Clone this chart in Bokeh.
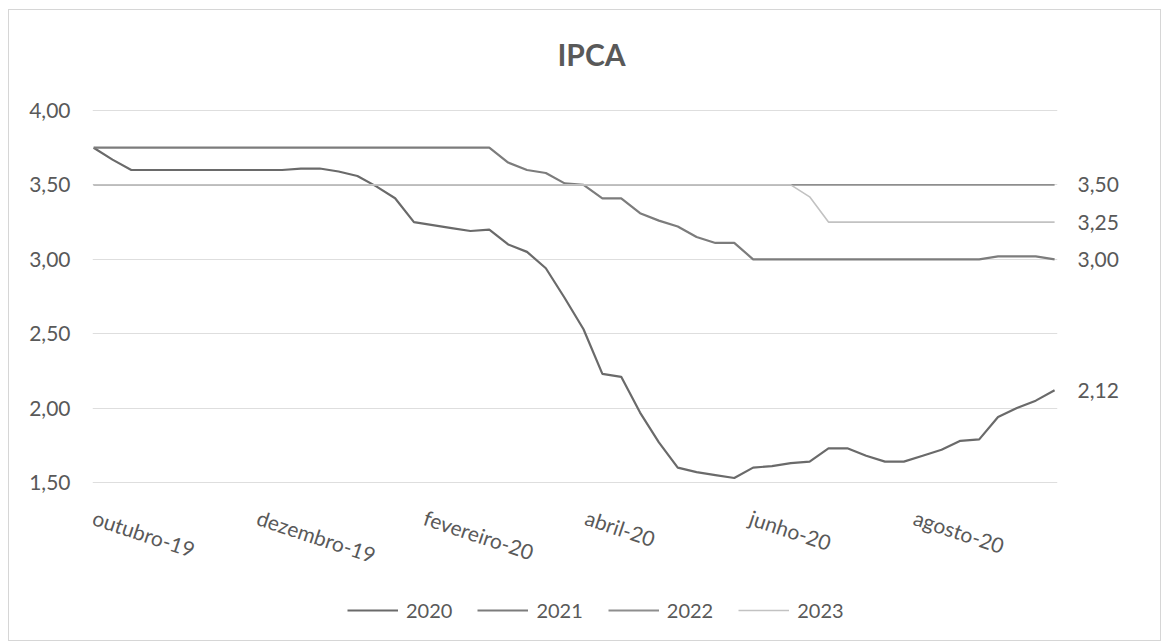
import pandas as pd
from bokeh.plotting import figure
from bokeh.models import (ColumnDataSource, Range1d, FixedTicker, CustomJSTickFormatter,
                          Legend, LegendItem, LinearAxis, LabelSet, Label)
from bokeh.core.properties import value
from bokeh.embed import file_html
from bokeh.resources import INLINE

# ---------------- data (Focus weekly expectations, IPCA) ----------------
datas = pd.date_range("2019-10-07", periods=52, freq="7D")

ipca_2020 = [3.75, 3.67, 3.60, 3.60, 3.60, 3.60, 3.60, 3.60, 3.60, 3.60, 3.60,
             3.61, 3.61, 3.59, 3.56, 3.49, 3.41, 3.25, 3.23, 3.21, 3.19, 3.20,
             3.10, 3.05, 2.94, 2.74, 2.53, 2.23, 2.21, 1.97, 1.77, 1.60, 1.57,
             1.55, 1.53, 1.60, 1.61, 1.63, 1.64, 1.73, 1.73, 1.68, 1.64, 1.64,
             1.68, 1.72, 1.78, 1.79, 1.94, 2.00, 2.05, 2.12]

ipca_2021 = [3.75, 3.75, 3.75, 3.75, 3.75, 3.75, 3.75, 3.75, 3.75, 3.75, 3.75,
             3.75, 3.75, 3.75, 3.75, 3.75, 3.75, 3.75, 3.75, 3.75, 3.75, 3.75,
             3.65, 3.60, 3.58, 3.51, 3.50, 3.41, 3.41, 3.31, 3.26, 3.22, 3.15,
             3.11, 3.11, 3.00, 3.00, 3.00, 3.00, 3.00, 3.00, 3.00, 3.00, 3.00,
             3.00, 3.00, 3.00, 3.00, 3.02, 3.02, 3.02, 3.00]

ipca_2022 = [3.50, 3.50, 3.50, 3.50, 3.50, 3.50, 3.50, 3.50, 3.50, 3.50, 3.50,
             3.50, 3.50, 3.50, 3.50, 3.50, 3.50, 3.50, 3.50, 3.50, 3.50, 3.50,
             3.50, 3.50, 3.50, 3.50, 3.50, 3.50, 3.50, 3.50, 3.50, 3.50, 3.50,
             3.50, 3.50, 3.50, 3.50, 3.50, 3.50, 3.50, 3.50, 3.50, 3.50, 3.50,
             3.50, 3.50, 3.50, 3.50, 3.50, 3.50, 3.50, 3.50]

ipca_2023 = [3.50, 3.50, 3.50, 3.50, 3.50, 3.50, 3.50, 3.50, 3.50, 3.50, 3.50,
             3.50, 3.50, 3.50, 3.50, 3.50, 3.50, 3.50, 3.50, 3.50, 3.50, 3.50,
             3.50, 3.50, 3.50, 3.50, 3.50, 3.50, 3.50, 3.50, 3.50, 3.50, 3.50,
             3.50, 3.50, 3.50, 3.50, 3.50, 3.42, 3.25, 3.25, 3.25, 3.25, 3.25,
             3.25, 3.25, 3.25, 3.25, 3.25, 3.25, 3.25, 3.25]

series_names = ["2020", "2021", "2022", "2023"]
series_values = [ipca_2020, ipca_2021, ipca_2022, ipca_2023]

tick_dates = ["2019-10-07", "2019-12-07", "2020-02-07", "2020-04-07", "2020-06-07", "2020-08-07"]
tick_labels = ["outubro-19", "dezembro-19", "fevereiro-20", "abril-20", "junho-20", "agosto-20"]
y_ticks = [1.5, 2.0, 2.5, 3.0, 3.5, 4.0]
chart_title = "IPCA"

# ---------------- styles / layout ----------------
colors = ["#6a6a6a", "#7c7c7c", "#8e8e8e", "#c2c2c2"]
widths = [2.2, 2.2, 1.8, 1.6]
FONT = "Lato"
TXT = "#595959"
comma_fmt = "return tick.toFixed(2).replace('.', ',');"

FRAME_W, FRAME_H = 965, 605
VALUE_AREA_PX = 372           # pixel height spanned by y_ticks[0]..y_ticks[-1]
TOP_PAD_PX, BOTTOM_PAD_PX = 80, 153   # room inside the frame for title / x labels / legend
px_per_unit = VALUE_AREA_PX / (y_ticks[-1] - y_ticks[0])
y_lo = y_ticks[0] - BOTTOM_PAD_PX / px_per_unit
y_hi = y_ticks[-1] + TOP_PAD_PX / px_per_unit

p = figure(x_axis_type="datetime", x_axis_location=None,
           x_range=Range1d(datas[0] - pd.Timedelta(hours=10), datas[-1] + pd.Timedelta(hours=26)),
           y_range=Range1d(y_lo, y_hi),
           frame_width=FRAME_W, frame_height=FRAME_H,
           min_border_left=83, min_border_right=103, min_border_top=20, min_border_bottom=5,
           output_backend="svg", toolbar_location=None)
p.outline_line_color = None
p.styles = {"border": "1px solid #d6d6d6", "margin-left": "8px", "margin-top": "9px"}

renderers = []
for name, vals, c, w in zip(series_names, series_values, colors, widths):
    src = ColumnDataSource(dict(x=datas, y=vals))
    r = p.line("x", "y", source=src, line_color=c, line_width=w)
    renderers.append(r)

# grid (horizontal only, at the value ticks)
p.xgrid.visible = False
p.ygrid.ticker = FixedTicker(ticks=y_ticks)
p.ygrid.grid_line_color = "#dedede"
p.ygrid.grid_line_width = 1

# y axis
p.yaxis.ticker = FixedTicker(ticks=y_ticks)
p.yaxis.formatter = CustomJSTickFormatter(code=comma_fmt)
p.yaxis.axis_line_color = None
p.yaxis.major_tick_out = 0
p.yaxis.major_tick_in = 0
p.yaxis.major_tick_line_color = None
p.yaxis.minor_tick_line_color = None
p.yaxis.major_label_standoff = 22
p.yaxis.major_label_text_font = FONT
p.yaxis.major_label_text_font_size = "21px"
p.yaxis.major_label_text_color = TXT

# category (date) labels, slanted, under the value area
xlab_src = ColumnDataSource(dict(x=pd.to_datetime(tick_dates),
                                 y=[y_ticks[0]] * len(tick_labels),
                                 t=tick_labels))
p.add_layout(LabelSet(x="x", y="y", text="t", source=xlab_src, y_offset=-34,
                      angle=-0.32, text_align="left", text_baseline="middle",
                      text_font=value(FONT), text_font_size="21px", text_color=TXT))

# end-of-series value labels (right side)
end_values = [v[-1] for v in series_values]
end_axis = LinearAxis(ticker=FixedTicker(ticks=end_values),
                      formatter=CustomJSTickFormatter(code=comma_fmt),
                      axis_line_color=None, major_tick_line_color=None, minor_tick_line_color=None,
                      major_tick_out=0, major_tick_in=0, major_label_standoff=20,
                      major_label_text_font=FONT, major_label_text_font_size="21px",
                      major_label_text_color=TXT)
p.add_layout(end_axis, "right")

# title
p.add_layout(Label(x=499, y=FRAME_H - 23, x_units="screen", y_units="screen", text=chart_title,
                   text_align="center", text_baseline="middle", text_font=FONT,
                   text_font_style="bold", text_font_size="30px", text_color=TXT))

# legend
legend = Legend(items=[LegendItem(label=n, renderers=[r]) for n, r in zip(series_names, renderers)],
                orientation="horizontal", location=(255, 13),
                border_line_color=None, background_fill_alpha=0,
                label_text_font=FONT, label_text_font_size="20px", label_text_color=TXT,
                glyph_width=51, glyph_height=20, label_standoff=8, spacing=25,
                padding=0, margin=0)
p.add_layout(legend)

open("out.html", "w").write(file_html(p, INLINE))
